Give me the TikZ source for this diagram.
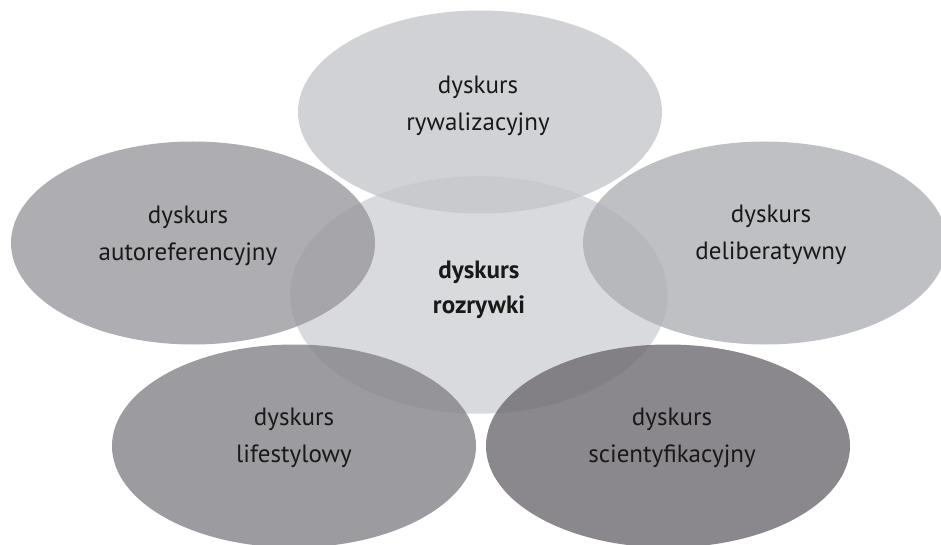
\documentclass[tikz,border=0pt]{standalone}
\usepackage{fontspec}
\setmainfont{PT Sans}
\usepackage{xcolor}
\usetikzlibrary{shapes.geometric, calc}
\definecolor{ccore}{RGB}{216,218,221}
\definecolor{crival}{RGB}{196,199,202}
\definecolor{cauto}{RGB}{154,152,157}
\definecolor{cdelib}{RGB}{175,176,180}
\definecolor{clife}{RGB}{131,131,136}
\definecolor{cscien}{RGB}{109,106,111}
\tikzset{
    bubble/.style={ellipse, fill opacity=0.8, inner sep=0cm, minimum width=364pt, minimum height=203pt},
    blabel/.style={align=center, text=black!90, font=\fontsize{25}{37}\selectfont}
}
\newcommand{\discourse}[5]{
    \node[bubble, fill=#3] (#1) at (#2) {};
    \node[blabel] (#1-t) at ($(#1) + (#4)$) {#5};
}
\begin{document}
\begin{tikzpicture}[x=1pt, y=1pt]
    \clip (0, 0) rectangle (941, 544);
    \node[ellipse, fill=ccore, draw=white, line width=0.5pt, inner sep=0cm, minimum width=378pt, minimum height=238pt] (rozrywka) at (479, 249) {};
    \node[blabel, font=\fontsize{25}{35}\selectfont\bfseries] (rozrywka-t) at ($(rozrywka) + (0, 5)$) {dyskurs\\rozrywki};
    \discourse{rywal}{480, 432}{crival}{-2, 6}{dyskurs\\rywalizacyjny}
    \discourse{auto}{193, 301}{cauto}{-5, 7}{dyskurs\\autoreferencyjny}
    \discourse{delib}{765, 301}{cdelib}{6, 8}{dyskurs\\deliberatywny}
    \discourse{life}{294, 98}{clife}{0, 8}{dyskurs\\lifestylowy}
    \discourse{scien}{668, 98}{cscien}{4, 8}{dyskurs\\scientyfikacyjny}
\end{tikzpicture}
\end{document}
